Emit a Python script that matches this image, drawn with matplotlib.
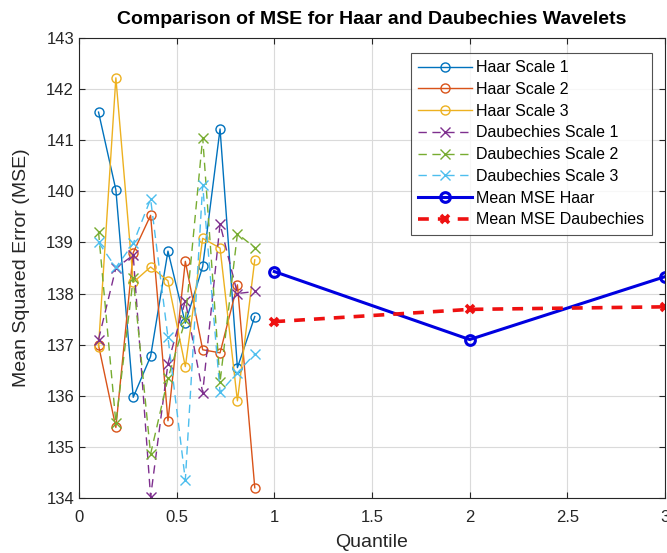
import numpy as np
import matplotlib
matplotlib.use('Agg')
import matplotlib.pyplot as plt

plt.rcParams['font.family'] = ['Liberation Sans', 'DejaVu Sans']

# quantile positions of the per-scale points
quantiles = np.linspace(0.1, 0.9, 10)

haar_s1 = [141.55, 140.03, 135.97, 136.77, 138.83, 137.42, 138.53, 141.22, 136.55, 137.55]
haar_s2 = [136.99, 135.38, 138.80, 139.53, 135.51, 138.63, 136.90, 136.84, 138.17, 134.20]
haar_s3 = [136.95, 142.22, 138.22, 138.52, 138.25, 136.57, 139.08, 138.89, 135.90, 138.66]

daub_s1 = [137.10, 138.50, 138.75, 134.02, 136.63, 137.86, 136.06, 139.36, 138.00, 138.04]
daub_s2 = [139.21, 135.47, 138.30, 134.86, 136.34, 137.48, 141.05, 136.27, 139.17, 138.90]
daub_s3 = [139.00, 138.51, 138.98, 139.85, 137.14, 134.35, 140.12, 136.07, 136.45, 136.82]

scales = [1, 2, 3]
mean_haar = [138.43, 137.10, 138.33]
mean_daub = [137.45, 137.69, 137.74]

colors = ['#0072BD', '#D95319', '#EDB120', '#7E2F8E', '#77AC30', '#4DBEEE']

fig = plt.figure(figsize=(6.67, 5.53), dpi=100)
ax = fig.add_axes([0.1184, 0.0995, 0.8786, 0.8318])

for i, vals in enumerate([haar_s1, haar_s2, haar_s3]):
    ax.plot(quantiles, vals, '-o', color=colors[i], lw=1, ms=6.5,
            mfc='none', mew=1, label=f'Haar Scale {i + 1}')
for i, vals in enumerate([daub_s1, daub_s2, daub_s3]):
    ax.plot(quantiles, vals, linestyle=(0, (6, 4)), marker='x', color=colors[i + 3],
            lw=1, ms=7, mew=1, label=f'Daubechies Scale {i + 1}')

ax.plot(scales, mean_haar, '-o', color='#0000E0', lw=2.2, ms=7, mfc='none',
        mew=2.2, label='Mean MSE Haar')
ax.plot(scales, mean_daub, linestyle=(0, (3, 2.5)), marker='x', color='#EE1111',
        lw=2.6, ms=6, mew=2.6, label='Mean MSE Daubechies')

ax.set_xlim(0, 3)
ax.set_ylim(134, 143)
ax.set_xticks(np.arange(0, 3.01, 0.5))
ax.set_xticklabels(['0', '0.5', '1', '1.5', '2', '2.5', '3'])
ax.set_yticks(np.arange(134, 143.1, 1))
ax.tick_params(direction='in', length=4, labelsize=12, colors='#262626',
               top=True, right=True)
ax.tick_params(axis='x', pad=9)
for s in ax.spines.values():
    s.set_color('#262626')
    s.set_linewidth(0.8)
ax.grid(True, color='#DADADA', lw=0.8)
ax.set_axisbelow(True)

ax.set_xlabel('Quantile', fontsize=14, color='#262626', labelpad=6)
ax.set_ylabel('Mean Squared Error (MSE)', fontsize=14, color='#262626', labelpad=12)
ax.set_title('Comparison of MSE for Haar and Daubechies Wavelets',
             fontsize=14, fontweight='bold', pad=10)

leg = ax.legend(loc='upper right', bbox_to_anchor=(0.977, 0.967), fontsize=11.5,
                frameon=True, fancybox=False, edgecolor='#262626',
                handlelength=3.4, labelspacing=0.42, borderpad=0.45,
                handletextpad=0.25, borderaxespad=0)
leg.get_frame().set_linewidth(0.8)

fig.savefig('out.png', dpi=100)
